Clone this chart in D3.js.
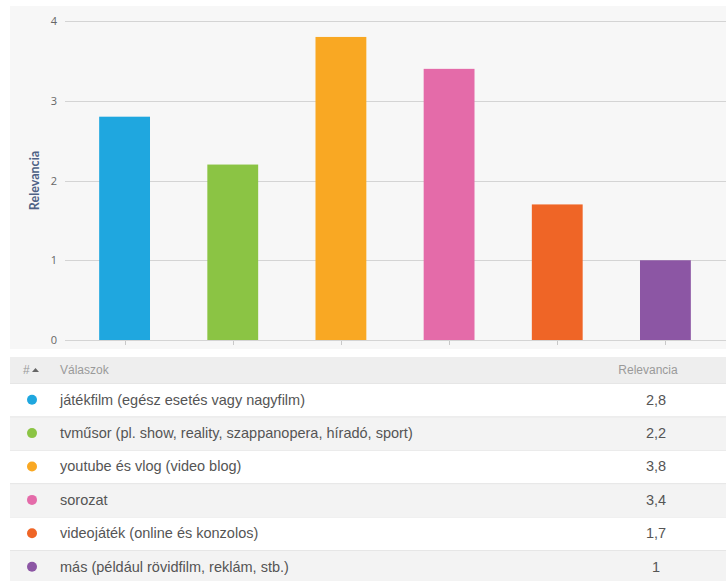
<!DOCTYPE html>
<html>
<head>
<meta charset="utf-8">
<script src="https://cdn.jsdelivr.net/npm/d3@7/dist/d3.min.js"></script>
<style>
  html, body { margin: 0; padding: 0; background: #ffffff; }
  svg { display: block; }
</style>
</head>
<body>
<svg id="chart" width="726" height="581"></svg>
<script>
// Survey answers and their relevance scores
const categories = [
  "játékfilm (egész esetés vagy nagyfilm)",
  "tvműsor (pl. show, reality, szappanopera, híradó, sport)",
  "youtube és vlog (video blog)",
  "sorozat",
  "videojáték (online és konzolos)",
  "más (például rövidfilm, reklám, stb.)"
];
const values = [2.8, 2.2, 3.8, 3.4, 1.7, 1];
const valueLabels = ["2,8", "2,2", "3,8", "3,4", "1,7", "1"];
const colors = ["#1fa7df", "#8bc444", "#f9a823", "#e46ba9", "#ef6526", "#8c56a4"];
const yTicks = [0, 1, 2, 3, 4];

const svg = d3.select("#chart");
const font = "'Liberation Sans', Arial, sans-serif";

// ---- Bar chart panel ----
const panel = { x: 10, y: 6, w: 716, h: 343 };
svg.append("rect")
  .attr("x", panel.x).attr("y", panel.y)
  .attr("width", panel.w).attr("height", panel.h)
  .attr("fill", "#f7f7f7");

const x = d3.scaleBand()
  .domain(categories)
  .range([70.5, 719.5])
  .paddingInner(0.53)
  .paddingOuter(0.265);

const y = d3.scaleLinear().domain([0, 4]).range([340, 21]);

// Horizontal grid lines
svg.append("g")
  .selectAll("line")
  .data(yTicks)
  .join("line")
  .attr("x1", 65).attr("x2", 726)
  .attr("y1", d => Math.round(y(d)) + 0.5)
  .attr("y2", d => Math.round(y(d)) + 0.5)
  .attr("stroke", "#d4d4d4")
  .attr("stroke-width", 1);

// Y axis tick labels
const yAxis = d3.axisLeft(y).tickValues(yTicks).tickFormat(d3.format("d"))
  .tickSize(0).tickPadding(0);
svg.append("g")
  .attr("transform", "translate(57,0)")
  .call(yAxis)
  .call(g => g.select(".domain").remove())
  .call(g => g.selectAll("text")
    .attr("fill", "#666")
    .attr("font-family", "'Open Sans', sans-serif")
    .attr("font-size", 11));

// Y axis title
svg.append("text")
  .attr("transform", `translate(39,${y(2)}) rotate(-90)`)
  .attr("text-anchor", "middle")
  .attr("font-family", "Lato, sans-serif")
  .attr("font-weight", "bold")
  .attr("font-size", 12.5)
  .attr("fill", "#4e6185")
  .text("Relevancia");

// Bars
svg.append("g")
  .selectAll("rect")
  .data(values)
  .join("rect")
  .attr("x", (d, i) => x(categories[i]))
  .attr("y", d => y(d))
  .attr("width", x.bandwidth())
  .attr("height", d => y(0) - y(d))
  .attr("fill", (d, i) => colors[i]);

// Small category ticks below the baseline
svg.append("g")
  .selectAll("line")
  .data(categories)
  .join("line")
  .attr("x1", d => Math.round(x(d) + x.bandwidth() / 2) + 0.5)
  .attr("x2", d => Math.round(x(d) + x.bandwidth() / 2) + 0.5)
  .attr("y1", 341).attr("y2", 345)
  .attr("stroke", "#c8c8c8");

// ---- Results table ----
const tableX = 10, tableW = 716;
const headerY = 357, headerH = 26;
const rowH = 33.4;
const valueX = 656;

svg.append("rect")
  .attr("x", tableX).attr("y", headerY)
  .attr("width", tableW).attr("height", headerH)
  .attr("fill", "#eeeeee");

const header = svg.append("g")
  .attr("font-family", font)
  .attr("font-size", 12)
  .attr("fill", "#9a9a9a");
header.append("text").attr("x", 23).attr("y", headerY + headerH / 2 + 4).text("#");
header.append("path")
  .attr("d", `M32,${headerY + 15} L35.5,${headerY + 11} L39,${headerY + 15} Z`)
  .attr("fill", "#666");
header.append("text").attr("x", 60).attr("y", headerY + headerH / 2 + 4).text("Válaszok");
header.append("text").attr("x", 648).attr("y", headerY + headerH / 2 + 4)
  .attr("text-anchor", "middle").text("Relevancia");

const rowsTop = headerY + headerH;
const rows = svg.append("g")
  .selectAll("g")
  .data(categories)
  .join("g")
  .attr("transform", (d, i) => `translate(0,${rowsTop + i * rowH})`);

rows.append("rect")
  .attr("x", tableX).attr("y", 0)
  .attr("width", tableW).attr("height", rowH)
  .attr("fill", (d, i) => i % 2 === 0 ? "#ffffff" : "#f3f3f3");

rows.append("line")
  .attr("x1", tableX).attr("x2", tableX + tableW)
  .attr("y1", 0.5).attr("y2", 0.5)
  .attr("stroke", "#e6e6e6");

rows.append("circle")
  .attr("cx", 32).attr("cy", rowH / 2)
  .attr("r", 5)
  .attr("fill", (d, i) => colors[i]);

rows.append("text")
  .attr("x", 60).attr("y", rowH / 2 + 5)
  .attr("font-family", font)
  .attr("font-size", 14.5)
  .attr("fill", "#555")
  .text(d => d);

rows.append("text")
  .attr("x", valueX).attr("y", rowH / 2 + 5)
  .attr("text-anchor", "middle")
  .attr("font-family", font)
  .attr("font-size", 14.5)
  .attr("fill", "#555")
  .text((d, i) => valueLabels[i]);
</script>
</body>
</html>
